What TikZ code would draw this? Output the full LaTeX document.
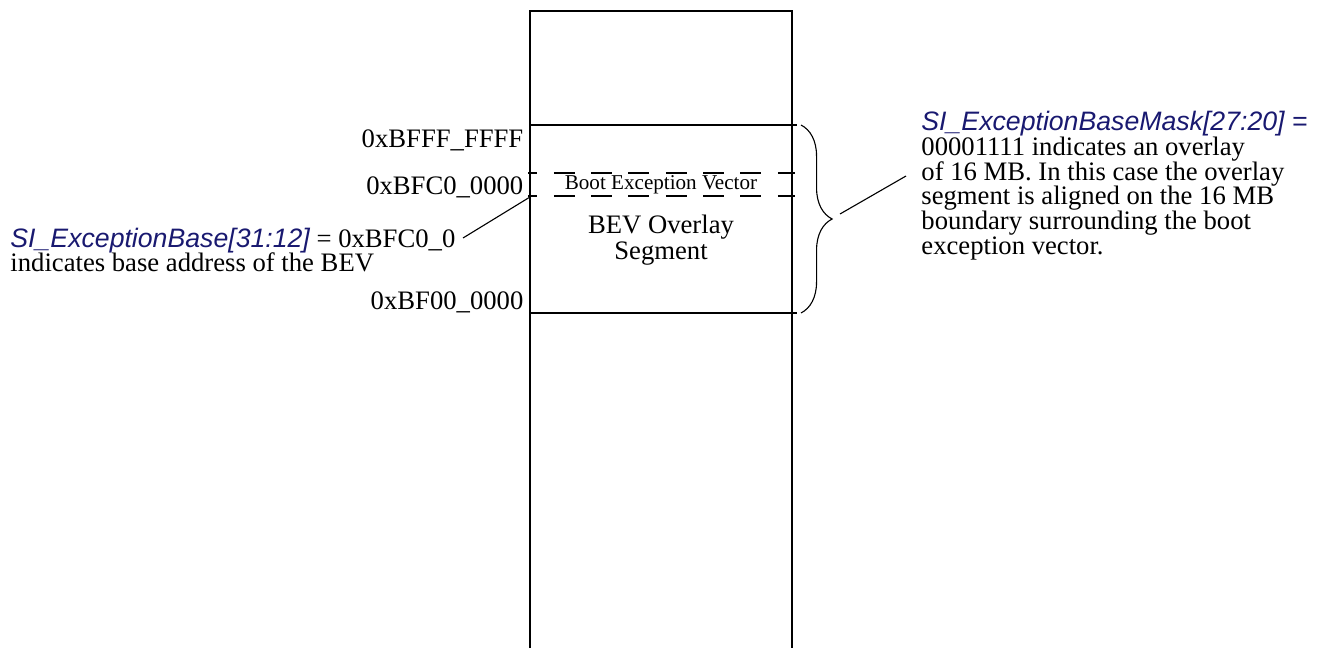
\documentclass[tikz,border=0pt]{standalone}
\usepackage{fontspec}
\setmainfont{Liberation Serif}
\newfontfamily\regfont{Liberation Sans}
\usetikzlibrary{positioning,decorations.pathreplacing}
\definecolor{regblue}{RGB}{25,25,112}
\newcommand{\regname}[1]{{\regfont\itshape\color{regblue}#1}}

\begin{document}
\begin{tikzpicture}[x=0.45pt,y=-0.45pt]
\tikzset{
    column/.style={line width=0.9pt},
    vecline/.style={line width=0.9pt, dash pattern=on 9.4pt off 7.4pt, dash phase=5.2pt},
    addr/.style={anchor=east, inner sep=1pt, font=\fontsize{12}{11}\selectfont},
    note/.style={inner sep=0pt, font=\fontsize{12}{11.1}\selectfont},
    leader/.style={line width=0.5pt},
    bracket/.style={decorate, decoration={brace, amplitude=14pt}, line width=0.5pt}
}
\useasboundingbox (0,0) rectangle (1325,648);
% memory column and segment bounds
\draw[column] (530,648) |- (792,11) -- (792,648);
\draw[column] (530,125) -- (797,125);
\draw[column] (530,313) -- (797,313);
\draw[vecline] (528,173) -- (795,173);
\draw[vecline] (528,196) -- (795,196);
% addresses
\node[addr] (hi) at (526,140) {0xBFFF\_FFFF};
\node[addr] (vec) at (526,187) {0xBFC0\_0000};
\node[addr] (lo) at (526,302) {0xBF00\_0000};
\node[inner sep=0pt, font=\fontsize{9.5}{10}\selectfont] (bev) at (661,185) {Boot Exception Vector};
\node[note, align=center, font=\fontsize{12}{12}\selectfont] (seg) at (661,240) {BEV Overlay\\Segment};
% base register note
\node[note, align=left, anchor=west] (base) at (10,250)
    {\regname{SI\_ExceptionBase[31:12]} = 0xBFC0\_0\\indicates base address of the BEV};
\coordinate (basetip) at (463,238);
\coordinate (vectop) at (530,197);
\draw[leader] (basetip) -- (vectop);
% mask register note
\coordinate (bt) at (801,125);
\coordinate (bb) at (801,313);
\draw[bracket] (bt) -- (bb);
\node[note, align=left, anchor=north west] (mask) at (921,111)
    {\regname{SI\_ExceptionBaseMask[27:20] =}\\
     00001111 indicates an overlay\\
     of 16 MB. In this case the overlay\\
     segment is aligned on the 16 MB\\
     boundary surrounding the boot\\
     exception vector.};
\coordinate (masktip) at (840,214);
\coordinate (maskend) at (906,176);
\draw[leader] (masktip) -- (maskend);
\end{tikzpicture}
\end{document}
